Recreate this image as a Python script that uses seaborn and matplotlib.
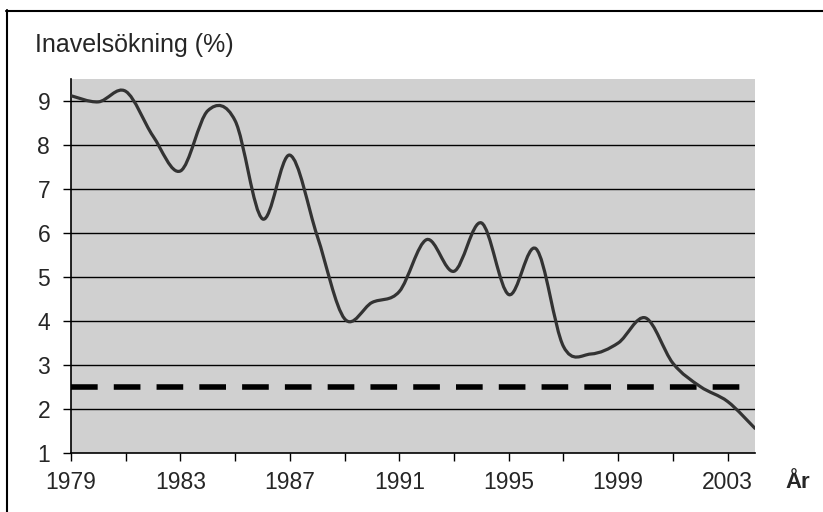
import numpy as np
import pandas as pd
import matplotlib
matplotlib.use("Agg")
import matplotlib.pyplot as plt
from matplotlib.lines import Line2D
from matplotlib.path import Path
from matplotlib.patches import PathPatch
import seaborn as sns

# Data (yearly values, %)
years = list(range(1979, 2005))
inavel = [9.12, 8.98, 9.22, 8.20, 7.41, 8.78, 8.55, 6.32, 7.77, 5.93,
          4.05, 4.42, 4.67, 5.85, 5.13, 6.23, 4.60, 5.64, 3.42, 3.25,
          3.50, 4.07, 3.04, 2.51, 2.17, 1.56]
grans = 2.5
yticks = list(range(1, 10))
xticks = list(range(1979, 2004, 2))
xlabels = [str(y) if (y - 1979) % 4 == 0 else "" for y in xticks]

df = pd.DataFrame({"År": years, "Inavelsökning": inavel})


def smooth_path(xy):
    """Bezier-kurva genom punkterna (som Excels utjämnade linje)."""
    p = np.vstack([xy[0], xy, xy[-1]])
    verts = [tuple(xy[0])]
    codes = [Path.MOVETO]
    for i in range(1, len(p) - 2):
        c1 = p[i] + (p[i + 1] - p[i - 1]) / 6
        c2 = p[i + 1] - (p[i + 2] - p[i]) / 6
        verts += [tuple(c1), tuple(c2), tuple(p[i + 1])]
        codes += [Path.CURVE4] * 3
    return Path(verts, codes)


sns.set_style("white")
plt.rcParams["font.family"] = ["Liberation Sans", "DejaVu Sans"]

fig = plt.figure(figsize=(8.23, 5.12), dpi=100)
W, H = 823, 512
ax = fig.add_axes([71 / W, (H - 453) / H, 684 / W, 374 / H])
ax.set_facecolor("#d0d0d0")

# horisontella stödlinjer
for y in yticks[1:]:
    ax.axhline(y, color="black", lw=1.0, zorder=1)

ax.axhline(grans, color="black", lw=4.0, dashes=(4.8, 2.9), zorder=2)

sns.lineplot(data=df, x="År", y="Inavelsökning", ax=ax, color="#333333",
             lw=2.3, zorder=3)
# byt den raka linjen mot en utjämnad kurva
line = ax.lines[-1]
xy = line.get_xydata()
line.remove()
ax.add_patch(PathPatch(smooth_path(xy), facecolor="none",
                       edgecolor="#333333", lw=2.3, zorder=3,
                       capstyle="round", joinstyle="round"))

ax.set_xlim(1979, 2004)
ax.set_ylim(1, 9.5)
ax.set_xticks(xticks)
ax.set_xticklabels(xlabels)
ax.set_yticks(yticks)
ax.tick_params(axis="both", direction="out", length=6, width=1.0,
               color="black", labelsize=16.5, left=True, bottom=True)
ax.tick_params(axis="x", pad=7)
ax.tick_params(axis="y", pad=9)
ax.set_xlabel("")
ax.set_ylabel("")
for side in ["top", "right"]:
    ax.spines[side].set_visible(False)
for side in ["left", "bottom"]:
    ax.spines[side].set_color("black")
    ax.spines[side].set_linewidth(1.2)

fig.text(35 / W, (H - 52) / H, "Inavelsökning (%)", fontsize=18,
         ha="left", va="baseline")
fig.text(785 / W, (H - 482) / H, "År", fontsize=16, fontweight="bold",
         ha="left", va="center")

# ram runt diagrammet
fig.add_artist(Line2D([6 / W, 1], [(H - 10.5) / H] * 2, color="black",
                      lw=1.5, transform=fig.transFigure))
fig.add_artist(Line2D([6.5 / W] * 2, [0, (H - 10) / H], color="black",
                      lw=1.5, transform=fig.transFigure))

fig.savefig("out.png", dpi=100)
